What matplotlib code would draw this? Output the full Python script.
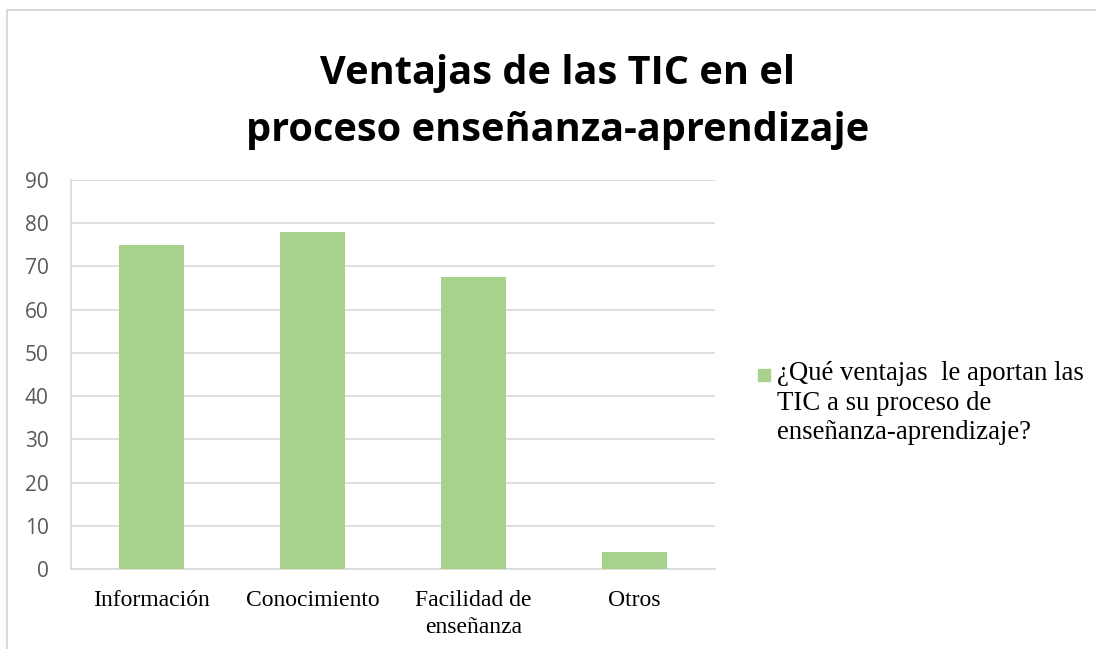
import matplotlib
matplotlib.use("Agg")
import matplotlib.pyplot as plt
from matplotlib.patches import Rectangle
from matplotlib.lines import Line2D

categories = ["Información", "Conocimiento", "Facilidad de\nenseñanza", "Otros"]
values = [75, 78, 67.5, 4]
yticks = [0, 10, 20, 30, 40, 50, 60, 70, 80, 90]
title = "Ventajas de las TIC en el\nproceso enseñanza-aprendizaje"
series_label = "¿Qué ventajas  le aportan las\nTIC a su proceso de\nenseñanza-aprendizaje?"

W, H = 1096, 649
fig = plt.figure(figsize=(W / 100, H / 100), dpi=100)
ax = fig.add_axes([71 / W, 1 - 569 / H, (715 - 71) / W, (569 - 180) / H])

bar_color = "#A9D18E"
x = list(range(len(categories)))
ax.bar(x, values, width=0.4, color=bar_color, zorder=3)
ax.set_xlim(-0.5, len(categories) - 0.5)
ax.set_ylim(0, 90)
ax.set_yticks(yticks)
ax.set_yticklabels([str(t) for t in yticks], fontsize=15, color="#595959",
                   family=["Open Sans", "DejaVu Sans"])
ax.set_xticks(x)
ax.set_xticklabels(categories, fontsize=17, family=["Liberation Serif"], color="black",
                   linespacing=1.38)
ax.tick_params(axis="both", length=0)
ax.tick_params(axis="y", pad=16)
ax.tick_params(axis="x", pad=15)
ax.yaxis.grid(True, color="#d9d9d9", linewidth=1.2, zorder=0)
for s in ["top", "right"]:
    ax.spines[s].set_visible(False)
ax.spines["left"].set_color("#d9d9d9")
ax.spines["bottom"].set_color("#d9d9d9")
ax.spines["left"].set_linewidth(1.2)
ax.spines["bottom"].set_linewidth(1.2)

fig.text(558 / W, 1 - 102 / H, title, ha="center", va="center", fontsize=28.6,
         fontweight="bold", family=["Open Sans", "DejaVu Sans"], linespacing=1.6)

# legend
fig.patches.append(Rectangle((758 / W, 1 - 381 / H), 12 / W, 12 / H,
                             transform=fig.transFigure, color=bar_color))
fig.text(777 / W, 1 - 361 / H, series_label, ha="left", va="top", fontsize=19.3,
         family=["Liberation Serif"], linespacing=1.24)

# chart frame
fig.lines.append(Line2D([7 / W, 1], [1 - 10 / H, 1 - 10 / H], transform=fig.transFigure,
                        color="#d9d9d9", linewidth=1.5))
fig.lines.append(Line2D([7 / W, 7 / W], [0, 1 - 10 / H], transform=fig.transFigure,
                        color="#d9d9d9", linewidth=1.5))

fig.savefig("out.png", dpi=100)
